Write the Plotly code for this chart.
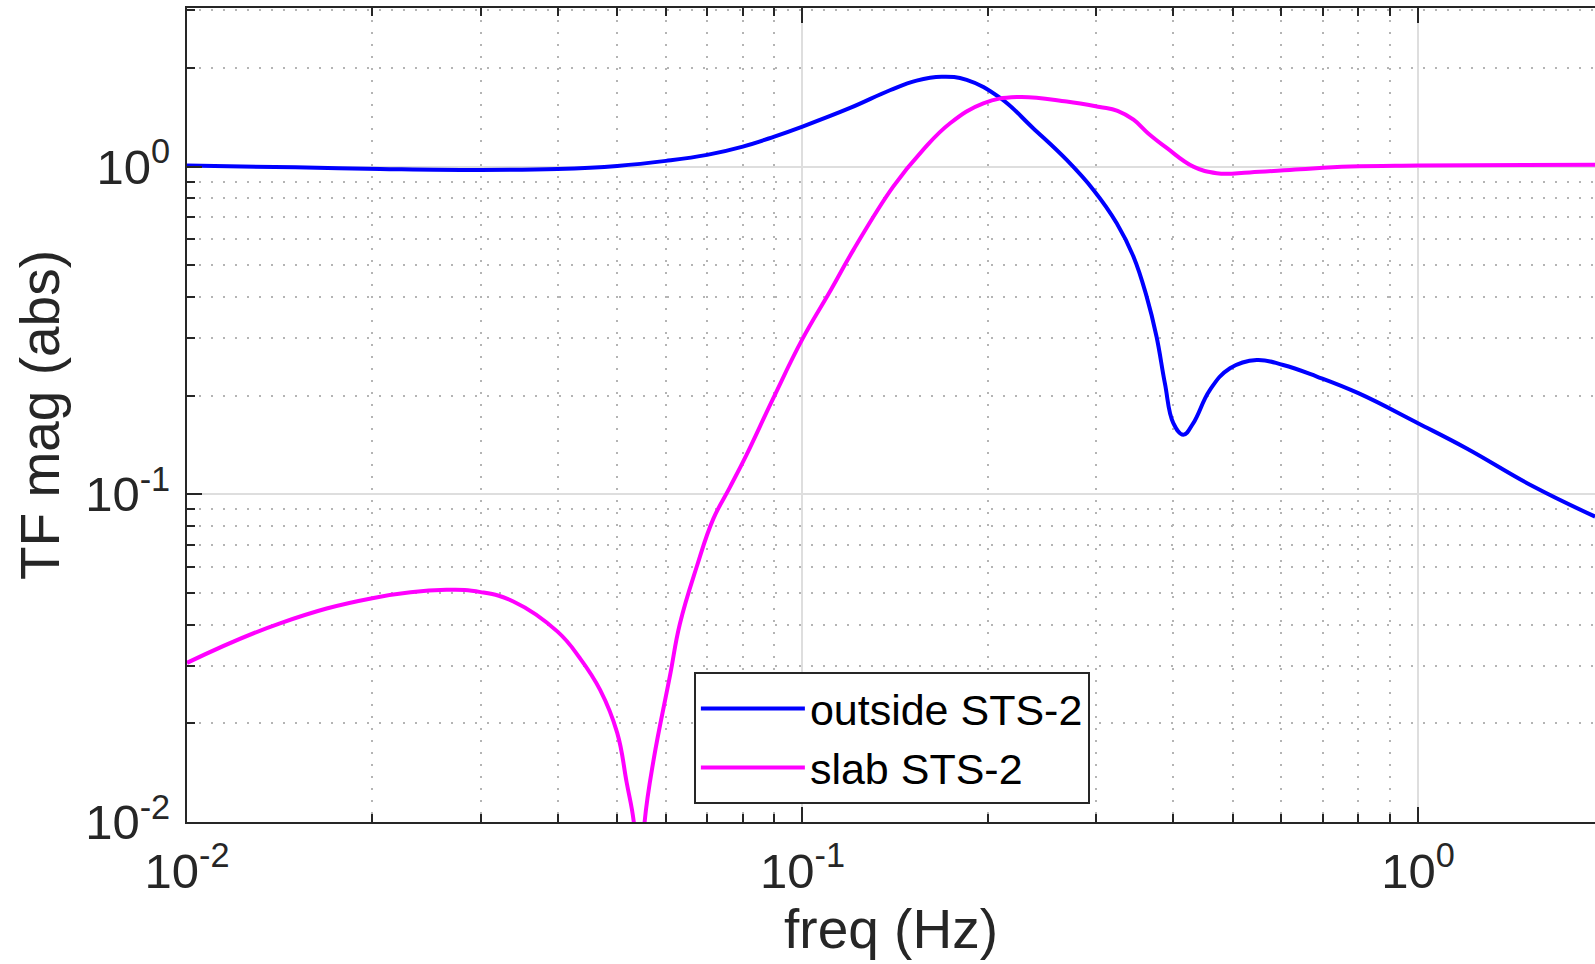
import plotly.graph_objects as go

# ---- data ----
freq_outside = [0.01, 0.015, 0.0206, 0.03, 0.04, 0.05, 0.06, 0.07, 0.08, 0.09, 0.1,
                0.1195, 0.1387, 0.1532, 0.1683, 0.1848, 0.2095, 0.237, 0.2687,
                0.297, 0.324, 0.345, 0.3624, 0.376, 0.388, 0.4004, 0.4157, 0.4315,
                0.459, 0.495, 0.547, 0.604, 0.685, 0.80, 1.0, 1.2, 1.54, 1.94]
mag_outside = [1.007, 0.995, 0.984, 0.977, 0.984, 1.005, 1.041, 1.086, 1.151, 1.235, 1.325,
               1.51, 1.71, 1.83, 1.88, 1.84, 1.62, 1.31, 1.048,
               0.849, 0.672, 0.531, 0.401, 0.303, 0.218, 0.165, 0.152, 0.165,
               0.208, 0.2425, 0.257, 0.248, 0.2287, 0.2035, 0.1648, 0.138, 0.1056, 0.0855]

freq_slab = [0.01, 0.01416, 0.02, 0.0264, 0.03, 0.0339, 0.04, 0.0435, 0.0469, 0.05,
             0.0518, 0.0532, 0.0538, 0.0543, 0.0549, 0.0554, 0.0573, 0.0609, 0.0632,
             0.0673, 0.0716, 0.0762, 0.0811, 0.0897, 0.1, 0.111, 0.121, 0.1404,
             0.157, 0.1737, 0.1967, 0.223, 0.2687, 0.304, 0.325, 0.345, 0.365, 0.3906,
             0.4315, 0.471, 0.533, 0.643, 0.776, 1.0, 1.94]
mag_slab = [0.0306, 0.0404, 0.0482, 0.0511, 0.0503, 0.0471, 0.0381, 0.0316, 0.0253, 0.0187,
            0.0132, 0.0100, 0.0070, 0.0040, 0.0070, 0.0100, 0.0155, 0.0279, 0.0402,
            0.0600, 0.084, 0.105, 0.132, 0.197, 0.298, 0.418, 0.557, 0.869,
            1.125, 1.356, 1.56, 1.63, 1.58, 1.52, 1.48, 1.39, 1.26, 1.14,
            1.0, 0.955, 0.96, 0.982, 1.0, 1.007, 1.014]

series_names = ["outside STS-2", "slab STS-2"]
x_tick_vals = [0.01, 0.1, 1]
x_tick_text = ["10<sup>-2</sup>", "10<sup>-1</sup>", "10<sup>0</sup>"]
y_tick_vals = [0.01, 0.1, 1]
y_tick_text = ["10<sup>-2</sup>", "10<sup>-1</sup>", "10<sup>0</sup>"]
x_title = "freq (Hz)"
y_title = "TF mag (abs)"

FONT = "Liberation Sans, Arial, Helvetica, sans-serif"
DARK = "#262626"
minor_vals = [m * 10 ** e for e in range(-2, 1) for m in range(2, 10)] + [2, 3]

fig = go.Figure()
fig.add_trace(go.Scatter(x=freq_outside, y=mag_outside, mode="lines", name=series_names[0],
                         line=dict(color="#0000FF", width=4, shape="spline", smoothing=1.2)))
fig.add_trace(go.Scatter(x=freq_slab, y=mag_slab, mode="lines", name=series_names[1],
                         line=dict(color="#FF00FF", width=4, shape="spline", smoothing=1.2)))

axis_common = dict(
    type="log", showline=True, linecolor=DARK, linewidth=2,
    ticks="inside", ticklen=15, tickwidth=2, tickcolor=DARK,
    showgrid=True, gridcolor="#dedede", gridwidth=2,
    zeroline=False,
    tickfont=dict(family=FONT, size=49, color=DARK),
    minor=dict(tickvals=minor_vals, ticks="inside", ticklen=8, tickwidth=2, tickcolor=DARK,
               showgrid=True, gridcolor="#b4b4b4", gridwidth=2, griddash="2px,10px"),
)

fig.update_xaxes(**axis_common, range=[-2, 0.2876], mirror="allticks",
                 tickvals=x_tick_vals, ticktext=x_tick_text, ticklabelstandoff=5,
                 title=dict(text=x_title, font=dict(family=FONT, size=55, color=DARK), standoff=6))
fig.update_yaxes(**axis_common, range=[-2, 0.484], mirror=False,
                 tickvals=y_tick_vals, ticktext=y_tick_text, ticklabelstandoff=5,
                 title=dict(text=y_title, font=dict(family=FONT, size=55, color=DARK), standoff=8))

fig.update_layout(
    width=1595, height=964, autosize=False,
    margin=dict(l=187, r=0, t=8, b=142),
    paper_bgcolor="white", plot_bgcolor="white",
    showlegend=True,
    legend=dict(x=0.360, y=0.103, xanchor="left", yanchor="middle",
                bgcolor="white", bordercolor=DARK, borderwidth=2,
                font=dict(family=FONT, size=43, color="black"),
                itemwidth=104, tracegroupgap=0),
)

fig.write_html("out.html")
